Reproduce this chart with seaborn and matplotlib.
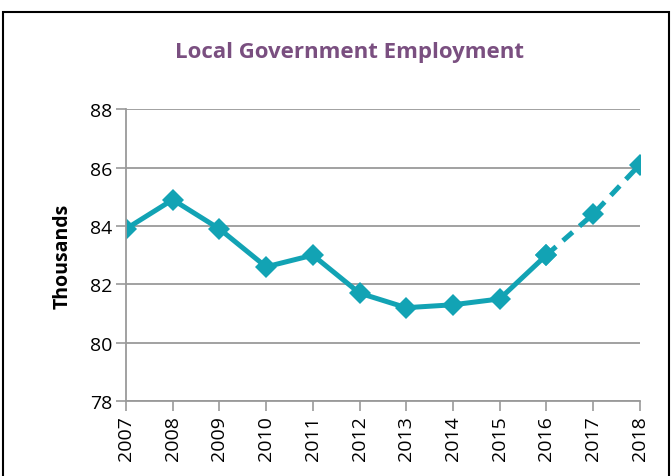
import pandas as pd
import seaborn as sns
import matplotlib.pyplot as plt
from matplotlib.patches import Rectangle

years = [2007, 2008, 2009, 2010, 2011, 2012, 2013, 2014, 2015, 2016, 2017, 2018]
employment = [83.9, 84.9, 83.9, 82.6, 83.0, 81.7, 81.2, 81.3, 81.5, 83.0, 84.4, 86.1]
# last actual year, the rest is projected
last_actual = 2016

df = pd.DataFrame({'year': years, 'thousands': employment})
actual = df[df['year'] <= last_actual]
projected = df[df['year'] >= last_actual]

sns.set_style('white')
plt.rcParams['font.family'] = ['Open Sans', 'DejaVu Sans']

line_color = '#12A3B4'
grid_color = '#9A9A9A'

fig = plt.figure(figsize=(6.72, 4.77), dpi=100)
ax = fig.add_axes([0.1875, 0.157, 0.7645, 0.612])

sns.lineplot(x='year', y='thousands', data=actual, ax=ax, color=line_color,
             linewidth=3.6, marker='D', markersize=11, markeredgewidth=0)
sns.lineplot(x='year', y='thousands', data=projected, ax=ax, color=line_color,
             linewidth=3.6, linestyle=(0, (2.6, 1.8)), marker='D',
             markersize=11, markeredgewidth=0)

ax.set_xlim(years[0], years[-1])
ax.set_ylim(78, 88)
ax.set_yticks([78, 80, 82, 84, 86, 88])
ax.set_xticks(years)
ax.set_xticklabels([str(y) for y in years], rotation=90)
ax.tick_params(axis='both', labelsize=14, colors='black')
ax.tick_params(axis='both', which='major', length=7, width=1.2, color=grid_color,
               bottom=True, left=True, pad=3)
ax.grid(axis='y', color=grid_color, linewidth=1.3)
ax.set_axisbelow(True)

for side in ['top', 'right']:
    ax.spines[side].set_visible(False)
for side in ['left', 'bottom']:
    ax.spines[side].set_color(grid_color)
    ax.spines[side].set_linewidth(1.3)

ax.set_xlabel('')
ax.set_ylabel('Thousands', fontsize=14, fontweight='bold', labelpad=12,
              color='black')

fig.text(0.52, 0.889, 'Local Government Employment', ha='center', va='center',
         fontsize=16, fontweight='bold', color='#7A4F80')

# chart border
fig.patches.append(Rectangle((0.0045, -0.05), 0.991, 1.05 - 13 / 477,
                             transform=fig.transFigure, fill=False,
                             edgecolor='black', linewidth=1.5))

fig.savefig('out.png', dpi=100)
